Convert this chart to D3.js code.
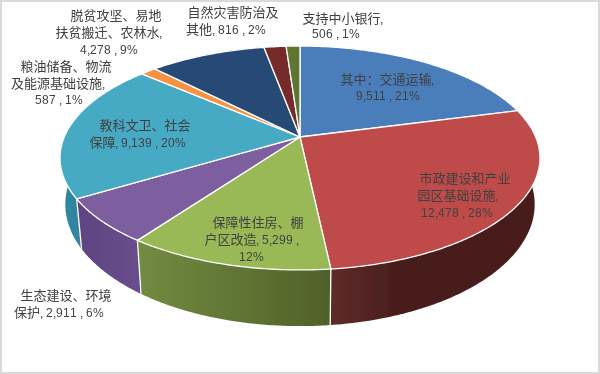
<!DOCTYPE html>
<html>
<head>
<meta charset="utf-8">
<script src="https://cdn.jsdelivr.net/npm/d3@7/dist/d3.min.js"></script>
<style>
  /* latin part of the labels runs narrower than the chinese */
  @font-face {
    font-family: "LabelLatin";
    src: local("Liberation Sans");
    size-adjust: 90%;
    unicode-range: U+0020-007E;
  }
  html, body { margin: 0; padding: 0; background: #fff; }
  svg { display: block; }
  text { font-family: "LabelLatin", "Liberation Sans", "Noto Sans CJK SC", sans-serif; font-size: 13px; fill: #404040; }
</style>
</head>
<body>
<div class="canvas"></div>
<script>
const categories = [
  "其中：交通运输", "市政建设和产业园区基础设施", "保障性住房、棚户区改造",
  "生态建设、环境保护", "教科文卫、社会保障", "粮油储备、物流及能源基础设施",
  "脱贫攻坚、易地扶贫搬迁、农林水", "自然灾害防治及其他", "支持中小银行"
];
const values = [9511, 12478, 5299, 2911, 9139, 587, 4278, 816, 506];
const topColors = ["#4a7ebb", "#be4b48", "#98b954", "#7d5fa0", "#46aac5", "#f69240", "#254a76", "#772c2a", "#5f7530"];
const wallFrom = ["#3a6496", "#5f2b2a", "#728c40", "#694d8c", "#3d97b1", "#c97632", "#1d3a5d", "#5d2120", "#4b5d26"];
const wallTo = ["#2c4b72", "#4a1e1e", "#4f6029", "#5e4480", "#2f86a0", "#a86028", "#162c47", "#481918", "#39471c"];
// where along the slice the wall reaches its dark colour
const wallStop = [1, 0.35, 1, 1, 1, 1, 1, 1, 1];
const labelLines = [
  ["其中：交通运输,", "9,511 , 21%"],
  ["市政建设和产业", "园区基础设施,", "12,478 , 28%"],
  ["保障性住房、棚", "户区改造, 5,299 ,", "12%"],
  ["生态建设、环境", "保护, 2,911 , 6%"],
  ["教科文卫、社会", "保障, 9,139 , 20%"],
  ["粮油储备、物流", "及能源基础设施,", "587 , 1%"],
  ["脱贫攻坚、易地", "扶贫搬迁、农林水,", "4,278 , 9%"],
  ["自然灾害防治及", "其他, 816 , 2%"],
  ["支持中小银行,", "506 , 1%"]
];
const labelX = [
  [387.5, 387.5], [465, 458, 457], [258, 252, 251], [66, 59], [145, 138],
  [66, 58, 59], [116, 109, 109], [233, 226], [343, 336]
];
const labelY = [
  [84, 100], [183, 200, 217], [227, 244, 261], [300, 317], [130, 147],
  [71, 88, 104], [20, 37, 54], [17, 34], [23, 38]
];

const dim = { width: 600, height: 374 };
const cen = { x: 300, y: 137 };
// perspective of the top face: k tilts the disc, far side comes out smaller
const persp = { rx: 235.7, ry: 108, k: 0.1876 };
// bottom rim is the top rim scaled
const rim = { sx: 0.978, sy: 1.088, dy: 32.4 };

const svg = d3
  .select(".canvas")
  .append("svg")
  .attr("width", dim.width)
  .attr("height", dim.height);

const topPoint = (angle, r = 1) => {
  const a = r * Math.sin(angle);
  const b = r * Math.cos(angle);
  const w = 1 + persp.k * b;
  return [cen.x + (persp.rx * a) / w, cen.y - (persp.ry * b) / w];
};
const bottomPoint = (angle) => {
  const [x, y] = topPoint(angle);
  return [cen.x + rim.sx * (x - cen.x), rim.sy * y + rim.dy];
};

const pie = d3.pie().sort(null).value((d) => d);
const angles = pie(values);
const line = d3.line();

const arcAngles = (d) => d3.range(d.startAngle, d.endAngle, 0.01).concat(d.endAngle);

const defs = svg.append("defs");
const grads = defs
  .selectAll("linearGradient")
  .data(angles)
  .enter()
  .append("linearGradient")
  .attr("id", (d, i) => `wall${i}`)
  .attr("gradientUnits", "userSpaceOnUse")
  .attr("x1", (d) => Math.min(topPoint(d.startAngle)[0], topPoint(d.endAngle)[0]))
  .attr("x2", (d) => Math.max(topPoint(d.startAngle)[0], topPoint(d.endAngle)[0]))
  .attr("y1", 0)
  .attr("y2", 0);
grads.append("stop").attr("offset", 0).attr("stop-color", (d, i) => (d.startAngle > Math.PI ? wallTo[i] : wallFrom[i]));
grads.append("stop").attr("offset", (d, i) => wallStop[i]).attr("stop-color", (d, i) => (d.startAngle > Math.PI ? wallFrom[i] : wallTo[i]));

const blur = defs.append("filter").attr("id", "soft");
blur.append("feGaussianBlur").attr("stdDeviation", 0.35);

const graph = svg.append("g").attr("filter", "url(#soft)");

// side walls first, the top face hides the far half
graph
  .append("g")
  .selectAll("path")
  .data(angles)
  .enter()
  .append("path")
  .attr("d", (d) => {
    const as = arcAngles(d);
    return line(as.map((a) => topPoint(a)).concat(as.slice().reverse().map(bottomPoint))) + "Z";
  })
  .attr("fill", (d, i) => `url(#wall${i})`);

// white seams where the slices meet on the wall
graph
  .append("g")
  .selectAll("path")
  .data(angles.filter((d) => Math.abs(topPoint(d.startAngle)[1]) > 190))
  .enter()
  .append("path")
  .attr("d", (d) => line([topPoint(d.startAngle), bottomPoint(d.startAngle)]))
  .attr("stroke", "#fff")
  .attr("stroke-width", 1.3);

graph
  .append("g")
  .selectAll("path")
  .data(angles)
  .enter()
  .append("path")
  .attr("d", (d) => line([[cen.x, cen.y]].concat(arcAngles(d).map((a) => topPoint(a)))) + "Z")
  .attr("fill", (d, i) => topColors[i])
  .attr("stroke", "#fff")
  .attr("stroke-width", 1.3)
  .attr("stroke-linejoin", "round");

const labels = svg.append("g").attr("filter", "url(#soft)");
labels
  .selectAll("g")
  .data(labelLines)
  .enter()
  .append("g")
  .each(function (lines, i) {
    d3.select(this)
      .selectAll("text")
      .data(lines)
      .enter()
      .append("text")
      .attr("x", (d, j) => labelX[i][j])
      .attr("y", (d, j) => labelY[i][j])
      .attr("text-anchor", "middle")
      .text((d) => d);
  });

// thin grey frame of the picture
svg
  .append("rect")
  .attr("x", 1)
  .attr("y", 1)
  .attr("width", dim.width - 2)
  .attr("height", dim.height - 2)
  .attr("fill", "none")
  .attr("stroke", "#d9d9d9")
  .attr("stroke-width", 2);
</script>
</body>
</html>
